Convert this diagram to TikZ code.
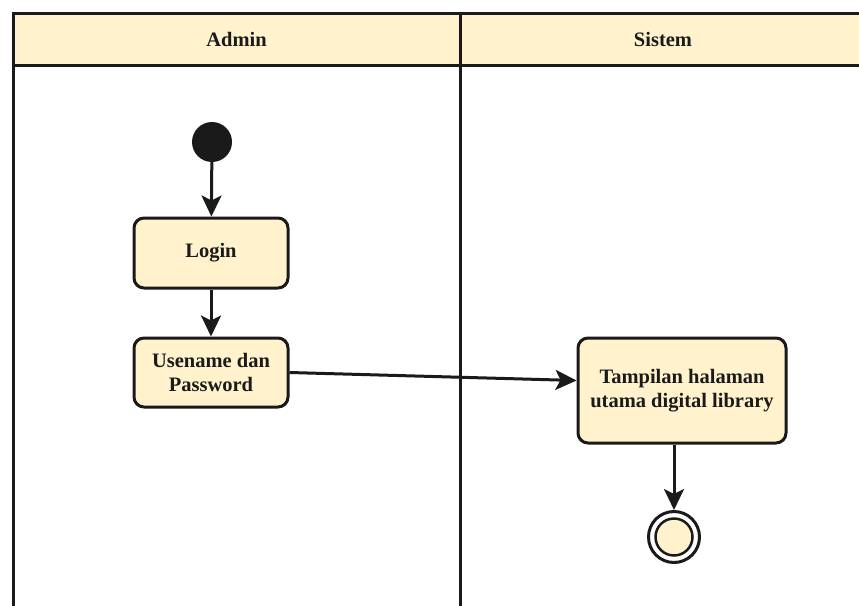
\documentclass[tikz,border=0pt]{standalone}
\usepackage{fontspec}
\setmainfont{Liberation Serif}
\usetikzlibrary{arrows.meta}
\definecolor{notefill}{HTML}{FFF2CC}
\definecolor{ink}{HTML}{1A1A1A}
\tikzset{
  lane/.style={draw=ink, line width=3pt},
  actbox/.style={draw=ink, fill=notefill, line width=3pt, rounded corners=10pt,
    align=center, inner sep=0pt, text=ink,
    font=\bfseries\fontsize{20.5}{24}\selectfont},
  flow/.style={draw=ink, line width=3pt,
    -{Stealth[length=21pt, width=20pt, inset=5pt]}},
  lanetitle/.style={text=ink, font=\bfseries\fontsize{20.5}{24}\selectfont},
}
\begin{document}
\begin{tikzpicture}[x=1pt, y=-1pt]
\useasboundingbox (0,0) rectangle (859,605);
\clip (0,0) rectangle (859,605);
% swimlane frame and header band
\fill[white] (0,0) rectangle (859,605);
\fill[notefill] (13,13) rectangle (870,65);
\draw[lane] (870,13) -- (13,13) -- (13,620);
\draw[lane] (13,65) -- (870,65);
\draw[lane] (460,13) -- (460,620);
\node[lanetitle] (hadmin) at (236.5,39) {Admin};
\node[lanetitle] (hsistem) at (663,39) {Sistem};
% activity nodes
\node[circle, fill=ink, minimum size=40pt, inner sep=0pt] (start) at (212,142) {};
\node[actbox, minimum width=154pt, minimum height=70pt] (login) at (211,253) {Login};
\node[actbox, minimum width=154pt, minimum height=69pt] (user) at (211,372.5) {Usename dan\\Password};
\node[actbox, minimum width=208pt, minimum height=105pt] (tamp) at (682,390.5) {Tampilan halaman\\utama digital library};
\node[circle, draw=ink, fill=white, line width=3pt, minimum size=51pt, inner sep=0pt] (stop) at (674,537) {};
\node[circle, draw=ink, fill=notefill, line width=2.5pt, minimum size=37pt, inner sep=0pt] (stopin) at (stop.center) {};
% control flow
\draw[flow] (start) -- (login);
\draw[flow] (login) -- (user);
\draw[flow] (user.east) -- ([yshift=10pt]tamp.west);
\draw[flow] (tamp.south -| stop.north) -- (stop.north);
\end{tikzpicture}
\end{document}
